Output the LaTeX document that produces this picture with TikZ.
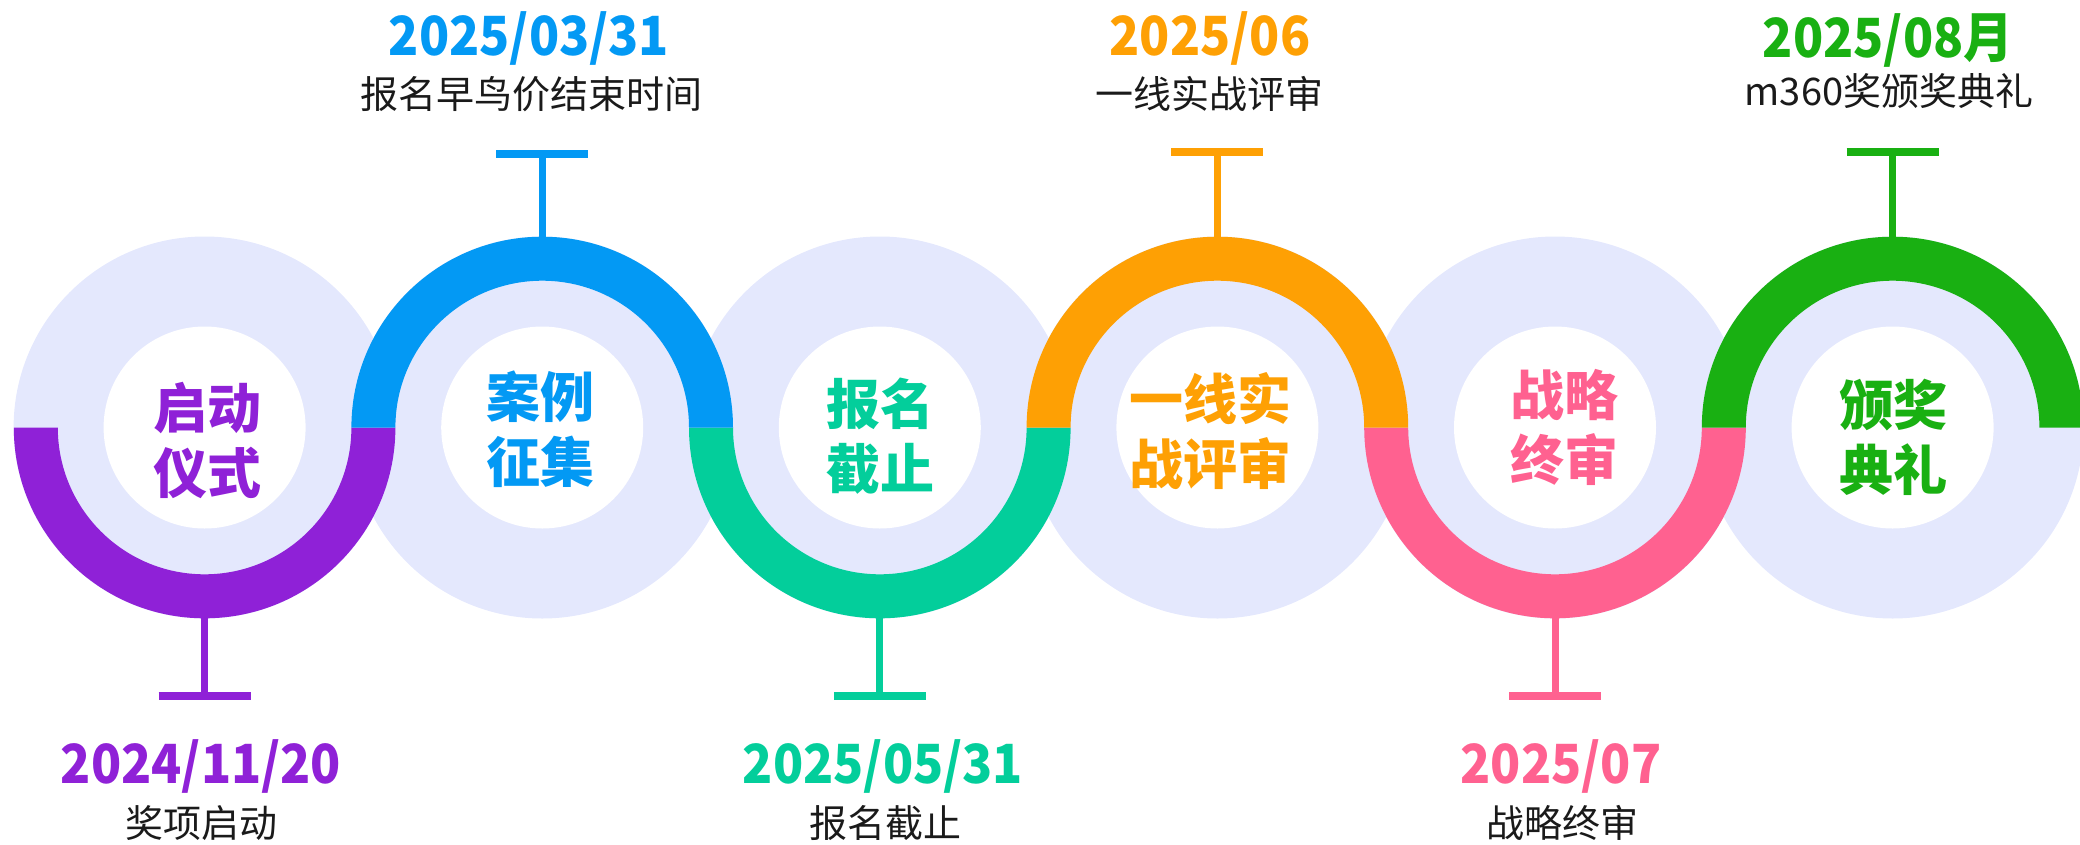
\documentclass[tikz,border=0pt]{standalone}
\usepackage{fontspec}
\setmainfont{Noto Sans CJK SC}
\newfontfamily\cjk{Noto Sans CJK SC}
\newfontfamily\datefont{Noto Sans CJK SC}[FakeStretch=0.92]
\definecolor{cpurple}{HTML}{8F21D7}
\definecolor{cblue}{HTML}{0399F4}
\definecolor{cteal}{HTML}{03CE9B}
\definecolor{corange}{HTML}{FEA004}
\definecolor{cpink}{HTML}{FF6190}
\definecolor{cgreen}{HTML}{19B012}
\definecolor{lav}{HTML}{E4E8FD}
\definecolor{ink}{HTML}{1A1A1A}
\tikzset{
  stemline/.style={line width=7pt},
  barline/.style={line width=7.5pt},
  inlabel/.style={font=\cjk\bfseries\fontsize{54}{65}\selectfont, align=center, inner sep=0pt},
  datelabel/.style={font=\datefont\bfseries\fontsize{54}{60}\selectfont, anchor=base, inner sep=0pt},
  sublabel/.style={font=\cjk\fontsize{38}{44}\selectfont, text=ink, anchor=base, inner sep=0pt}
}
\begin{document}
\begin{tikzpicture}[x=1pt,y=1pt]
\useasboundingbox (0,0) rectangle (2080,-844);
\def\cy{-427.5}
\def\Ro{190.8}
\def\Ri{146.8}
% lavender discs and white centres
\foreach \cx in {204.6,542.2,879.8,1217.4,1555,1892.6}{
  \fill[lav] (\cx,\cy) circle[radius=191pt];
}
\foreach \cx in {204.6,542.2,879.8,1217.4,1555,1892.6}{
  \fill[white] (\cx,\cy) circle[radius=101pt];
}
% bottom bands
\foreach \cx/\c in {204.6/cpurple,879.8/cteal,1555/cpink}{
  \fill[\c] (\cx-\Ro,\cy) arc[start angle=180,end angle=360,radius=\Ro pt]
     -- (\cx+\Ri,\cy) arc[start angle=0,end angle=-180,radius=\Ri pt] -- cycle;
}
% top bands
\foreach \cx/\c in {542.2/cblue,1217.4/corange,1892.6/cgreen}{
  \fill[\c] (\cx-\Ro,\cy) arc[start angle=180,end angle=0,radius=\Ro pt]
     -- (\cx+\Ri,\cy) arc[start angle=0,end angle=180,radius=\Ri pt] -- cycle;
}
% stems and bars
\coordinate (s1) at (204.6,\cy-\Ro+2);  \coordinate (t1) at (204.6,-696);
\coordinate (s2) at (542.2,\cy+\Ro-2);  \coordinate (t2) at (542.2,-154);
\coordinate (s3) at (879.8,\cy-\Ro+2);  \coordinate (t3) at (879.8,-696);
\coordinate (s4) at (1217.4,\cy+\Ro-2); \coordinate (t4) at (1217.4,-152);
\coordinate (s5) at (1555,\cy-\Ro+2);   \coordinate (t5) at (1555,-696);
\coordinate (s6) at (1892.6,\cy+\Ro-2); \coordinate (t6) at (1892.6,-152);
\foreach \k/\c in {1/cpurple,2/cblue,3/cteal,4/corange,5/cpink,6/cgreen}{
  \draw[stemline,\c] (s\k) -- (t\k);
  \draw[barline,\c] ([xshift=-46pt]t\k) -- ([xshift=46pt]t\k);
}
% inner labels
\node[inlabel,text=cpurple] (n1) at (207,-440) {启动\\仪式};
\node[inlabel,text=cblue]   (n2) at (540,-429) {案例\\征集};
\node[inlabel,text=cteal]   (n3) at (880,-436) {报名\\截止};
\node[inlabel,text=corange] (n4) at (1210,-431) {一线实\\战评审};
\node[inlabel,text=cpink]   (n5) at (1564,-427) {战略\\终审};
\node[inlabel,text=cgreen]  (n6) at (1893,-437) {颁奖\\典礼};
% dates
\node[datelabel,text=cpurple] (d1) at (201,-783) {2024/11/20};
\node[datelabel,text=cblue]   (d2) at (529,-55) {2025/03/31};
\node[datelabel,text=cteal]   (d3) at (883,-783) {2025/05/31};
\node[datelabel,text=corange] (d4) at (1210,-55) {2025/06};
\node[datelabel,text=cpink]   (d5) at (1561,-783) {2025/07};
\node[datelabel,text=cgreen]  (d6) at (1888,-57) {2025/08月};
% subtitles
\node[sublabel] (l1) at (201,-837) {奖项启动};
\node[sublabel] (l2) at (531,-108) {报名早鸟价结束时间};
\node[sublabel] (l3) at (885,-837) {报名截止};
\node[sublabel] (l4) at (1209,-108) {一线实战评审};
\node[sublabel] (l5) at (1562,-837) {战略终审};
\node[sublabel] (l6) at (1889,-105) {m360奖颁奖典礼};
\end{tikzpicture}
\end{document}
